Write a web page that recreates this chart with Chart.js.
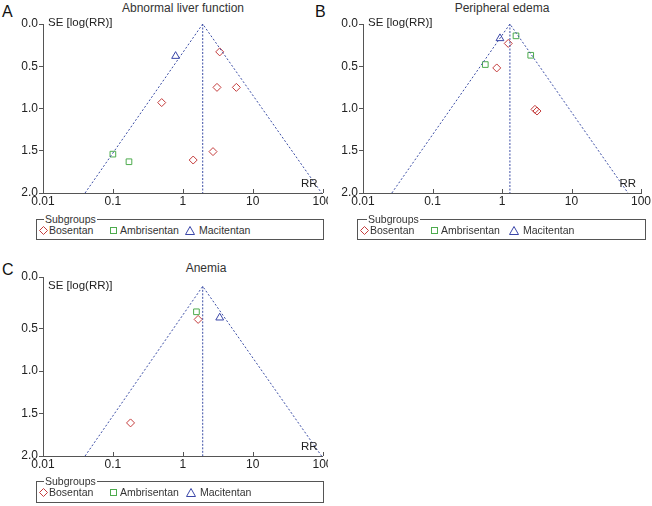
<!DOCTYPE html>
<html>
<head>
<meta charset="utf-8">
<title>Funnel plots</title>
<script src="https://cdn.jsdelivr.net/npm/chart.js@4.4.1/dist/chart.umd.min.js"></script>
<style>
  body { margin: 0; background: #fff; }
  #page { position: relative; width: 652px; height: 506px; overflow: hidden;
          font-family: "Liberation Sans", Arial, sans-serif; color: #222; }
  canvas { position: absolute; }
  .title { position: absolute; font-size: 12px; transform: translateX(-50%); white-space: nowrap; line-height: 1; color: #333; }
  .letter { position: absolute; font-size: 16px; line-height: 1; color: #111; }
  .legend { position: absolute; border: 1px solid #555; box-sizing: border-box; font-size: 10.5px; color: #333; }
  .legend .lg-title { position: absolute; top: -6px; background: #fff; padding: 0 1px; line-height: 11px; }
  .legend .lg-title::before { content: ""; position: absolute; left: -6px; top: 5px; width: 6px; border-top: 1px solid #555; }
  .legend .item { position: absolute; top: 4px; white-space: nowrap; line-height: 12px; display: flex; align-items: center; }
  .legend svg { display: block; }
  .legend .sq { display: block; width: 5px; height: 5px; border: 1px solid; }
</style>
</head>
<body>
<div id="page">
  <div class="letter" style="left:2px;top:4px">A</div>
  <div class="letter" style="left:315px;top:4px">B</div>
  <div class="letter" style="left:2px;top:262px">C</div>

  <div class="title" style="left:183px;top:2px">Abnormal liver function</div>
  <div class="title" style="left:502px;top:2px">Peripheral edema</div>
  <div class="title" style="left:206px;top:262px">Anemia</div>

  <canvas id="chartA" width="328" height="212" style="left:0;top:0"></canvas>
  <canvas id="chartB" width="332" height="212" style="left:320px;top:0"></canvas>
  <canvas id="chartC" width="328" height="226" style="left:0;top:250px"></canvas>

  <div class="legend" id="legendA" style="left:36px;top:219px;width:288px;height:21px"></div>
  <div class="legend" id="legendB" style="left:357px;top:219px;width:289px;height:21px"></div>
  <div class="legend" id="legendC" style="left:36px;top:481px;width:288px;height:22px"></div>
</div>

<script>
// Funnel plots of RR against SE[log(RR)], one per adverse event.

const xTicks = [0.01, 0.1, 1, 10, 100];
const xTickLabels = ['0.01', '0.1', '1', '10', '100'];
const yTickLabels = ['0.0', '0.5', '1.0', '1.5', '2.0'];
const subgroups = ['Bosentan', 'Ambrisentan', 'Macitentan'];
const funnelSE = [2, 0, 2];

// A: abnormal liver function
const aBosRR = [3.38, 3.09, 5.85, 0.50, 2.71, 1.41];
const aBosSE = [0.33, 0.75, 0.75, 0.93, 1.51, 1.61];
const aAmbRR = [0.10, 0.17];
const aAmbSE = [1.54, 1.63];
const aMacRR = [0.79];
const aMacSE = [0.38];
const aFunnelRR = [0.040, 1.93, 97];

// B: peripheral edema
const bBosRR = [1.23, 0.84, 2.98, 3.19];
const bBosSE = [0.23, 0.52, 1.01, 1.03];
const bAmbRR = [1.59, 2.59, 0.575];
const bAmbSE = [0.14, 0.37, 0.48];
const bMacRR = [0.935];
const bMacSE = [0.17];
const bFunnelRR = [0.026, 1.30, 65];

// C: anemia
const cBosRR = [1.66, 0.179];
const cBosSE = [0.39, 1.61];
const cAmbRR = [1.57];
const cAmbSE = [0.30];
const cMacRR = [3.38];
const cMacSE = [0.37];
const cFunnelRR = [0.040, 1.93, 97];

const RED = '#c43c3c';
const GREEN = '#4dab4d';
const BLUE = '#3a46a8';
const FUNNEL = '#3d4fa6';
const AXIS = '#555';

Chart.defaults.font.family = '"Liberation Sans", Arial, sans-serif';
Chart.defaults.font.size = 12;
Chart.defaults.color = '#222';

const pts = (xs, ys) => xs.map((x, i) => ({x, y: ys[i]}));

const panelDecor = {
  id: 'panelDecor',
  afterDraw(chart) {
    const {ctx, chartArea, scales} = chart;
    ctx.save();
    // x ticks point inwards
    ctx.strokeStyle = AXIS;
    ctx.lineWidth = 1;
    ctx.beginPath();
    for (const v of xTicks) {
      const px = Math.round(scales.x.getPixelForValue(v)) + 0.5;
      ctx.moveTo(px, chartArea.bottom);
      ctx.lineTo(px, chartArea.bottom - 4);
    }
    ctx.stroke();
    ctx.fillStyle = '#222';
    ctx.font = '11.5px "Liberation Sans", Arial, sans-serif';
    ctx.textBaseline = 'middle';
    ctx.textAlign = 'left';
    ctx.fillText('SE [log(RR)]', chartArea.left + 5, scales.y.getPixelForValue(0) - 1);
    ctx.textAlign = 'right';
    ctx.fillText('RR', chartArea.right - 5, chartArea.bottom - 9);
    ctx.restore();
  }
};

function makeFunnel(id, p) {
  const mk = (label, data, style, color, r) => ({
    label, data, pointStyle: style, pointRadius: r, pointHoverRadius: r,
    borderColor: color, backgroundColor: 'rgba(0,0,0,0)', pointBorderWidth: 1, showLine: false
  });
  const pooled = p.funnel[1];
  return new Chart(document.getElementById(id), {
    type: 'scatter',
    data: {
      datasets: [
        {label: 'funnel', data: pts(p.funnel, funnelSE), showLine: true, borderColor: FUNNEL,
         borderWidth: 1, borderDash: [2, 2], pointRadius: 0, fill: false},
        {label: 'pooled', data: pts([pooled, pooled], [0, 2]), showLine: true, borderColor: FUNNEL,
         borderWidth: 1, borderDash: [2, 1.5], pointRadius: 0, fill: false},
        mk(subgroups[0], pts(p.bosRR, p.bosSE), 'rectRot', RED, 4),
        mk(subgroups[1], pts(p.ambRR, p.ambSE), 'rect', GREEN, 4),
        mk(subgroups[2], pts(p.macRR, p.macSE), 'triangle', BLUE, 4.5)
      ]
    },
    options: {
      responsive: false,
      devicePixelRatio: 1,
      animation: false,
      layout: { padding: {left: 0, top: p.top, right: p.right, bottom: 0} },
      plugins: { legend: {display: false}, tooltip: {enabled: false} },
      scales: {
        x: {
          type: 'logarithmic', min: 0.01, max: 100,
          afterBuildTicks: s => { s.ticks = xTicks.map(v => ({value: v})); },
          afterFit: s => { s.height = p.xh; s.paddingLeft = 0; s.paddingRight = 0; },
          ticks: { callback: (v, i) => xTickLabels[i], autoSkip: false, maxRotation: 0, padding: 1 },
          grid: { display: false, drawTicks: false },
          border: { display: true, color: AXIS }
        },
        y: {
          type: 'linear', reverse: true, min: p.yMin, max: 2,
          afterBuildTicks: s => { s.ticks = [p.yMin, 0.5, 1, 1.5, 2].map(v => ({value: v})); },
          afterFit: s => { s.width = 43; },
          ticks: { callback: (v, i) => yTickLabels[i], padding: 1 },
          grid: { drawOnChartArea: false, drawTicks: true, tickLength: 4, color: AXIS },
          border: { display: true, color: AXIS }
        }
      }
    },
    plugins: [panelDecor]
  });
}

makeFunnel('chartA', {bosRR: aBosRR, bosSE: aBosSE, ambRR: aAmbRR, ambSE: aAmbSE,
  macRR: aMacRR, macSE: aMacSE, funnel: aFunnelRR, top: 24, right: 5, xh: 19, yMin: 0});
makeFunnel('chartB', {bosRR: bBosRR, bosSE: bBosSE, ambRR: bAmbRR, ambSE: bAmbSE,
  macRR: bMacRR, macSE: bMacSE, funnel: bFunnelRR, top: 24, right: 11, xh: 19, yMin: 0});
// panel C's axis runs a little above SE 0, its top tick is still labelled 0.0
makeFunnel('chartC', {bosRR: cBosRR, bosSE: cBosSE, ambRR: cAmbRR, ambSE: cAmbSE,
  macRR: cMacRR, macSE: cMacSE, funnel: cFunnelRR, top: 27, right: 5, xh: 20, yMin: -0.11});

// legends
const symbols = [
  c => `<svg width="9" height="9"><polygon points="4.5,0.5 8.5,4.5 4.5,8.5 0.5,4.5" fill="none" stroke="${c}"/></svg>`,
  c => `<span class="sq" style="border-color:${c}"></span>`,
  c => `<svg width="10" height="9"><polygon points="5,0.5 9.5,8.5 0.5,8.5" fill="none" stroke="${c}"/></svg>`
];
const symColors = [RED, GREEN, BLUE];
const gaps = [1, 3, 4];

function makeLegend(id, titleLeft, itemLefts) {
  const box = document.getElementById(id);
  let html = `<span class="lg-title" style="left:${titleLeft}px">Subgroups</span>`;
  subgroups.forEach((name, i) => {
    html += `<span class="item" style="left:${itemLefts[i]}px">${symbols[i](symColors[i])}` +
            `<span style="margin-left:${gaps[i]}px">${name}</span></span>`;
  });
  box.innerHTML = html;
}
makeLegend('legendA', 7, [2, 73, 148]);
makeLegend('legendB', 9, [2, 73, 151]);
makeLegend('legendC', 7, [2, 73, 149]);
</script>
</body>
</html>
